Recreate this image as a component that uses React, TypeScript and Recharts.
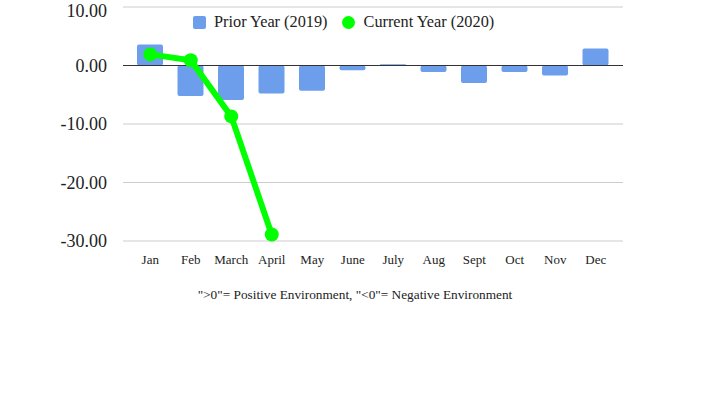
import {
  Bar,
  CartesianGrid,
  ComposedChart,
  Line,
  ReferenceLine,
  XAxis,
  YAxis,
} from "recharts";

const months = ["Jan", "Feb", "March", "April", "May", "June", "July", "Aug", "Sept", "Oct", "Nov", "Dec"];
const priorYear = [3.6, -5.2, -5.9, -4.8, -4.3, -0.8, 0.2, -1.1, -3.0, -1.1, -1.7, 2.9];
const currentYear: (number | null)[] = [1.9, 0.9, -8.7, -28.9, null, null, null, null, null, null, null, null];
const yTicks = [-30, -20, -10, 0, 10];

const FONT = '"Liberation Serif", "Times New Roman", serif';
const BAR = "#6d9eeb";
const GREEN = "#00ff00";

const data = months.map((m, i) => ({
  month: m,
  prior: priorYear[i],
  current: currentYear[i],
}));

// legend drawn as an overlay so it does not push the plot down
function LegendBox() {
  return (
    <div
      style={{
        position: "absolute",
        left: 193,
        top: 12,
        display: "flex",
        alignItems: "center",
        fontFamily: FONT,
        fontSize: 16.3,
        color: "#222",
        whiteSpace: "nowrap",
      }}
    >
      <span style={{ width: 13, height: 13, background: BAR, borderRadius: 2, marginRight: 8 }} />
      <span style={{ marginRight: 14 }}>Prior Year (2019)</span>
      <span style={{ width: 13, height: 13, background: GREEN, borderRadius: "50%", marginRight: 9 }} />
      <span>Current Year (2020)</span>
    </div>
  );
}

export default function App() {
  return (
    <div style={{ position: "absolute", left: 0, top: 0, width: 711, height: 399, background: "#fff" }}>
      <ComposedChart
        width={711}
        height={399}
        data={data}
        margin={{ top: 7, right: 88, bottom: 98, left: 0 }}
      >
        <CartesianGrid stroke="#cccccc" vertical={false} />
        <XAxis
          dataKey="month"
          axisLine={false}
          tickLine={false}
          padding={{ left: 7, right: 7 }}
          interval={0}
          height={60}
          tickMargin={8}
          tick={{ fill: "#222", fontSize: 13, fontFamily: FONT }}
          label={{
            value: '">0"= Positive Environment, "<0"= Negative Environment',
            position: "insideBottom",
            offset: 2,
            dx: -18,
            fill: "#222",
            fontSize: 13.3,
            fontFamily: FONT,
          }}
        />
        <YAxis
          type="number"
          domain={[-30, 10]}
          ticks={yTicks}
          width={123}
          axisLine={false}
          tickLine={false}
          tickMargin={10}
          tickFormatter={(v: number) => v.toFixed(2)}
          tick={{ fill: "#222", fontSize: 18, fontFamily: FONT }}
        />
        <Bar
          dataKey="prior"
          name="Prior Year (2019)"
          fill={BAR}
          barSize={26}
          radius={[2, 2, 2, 2]}
          isAnimationActive={false}
        />
        <ReferenceLine y={0} stroke="#333" strokeWidth={1} />
        <Line
          dataKey="current"
          name="Current Year (2020)"
          stroke={GREEN}
          strokeWidth={6}
          dot={{ r: 7, fill: GREEN, stroke: GREEN, strokeWidth: 0 }}
          activeDot={false}
          connectNulls={false}
          isAnimationActive={false}
        />
      </ComposedChart>
      <LegendBox />
    </div>
  );
}
